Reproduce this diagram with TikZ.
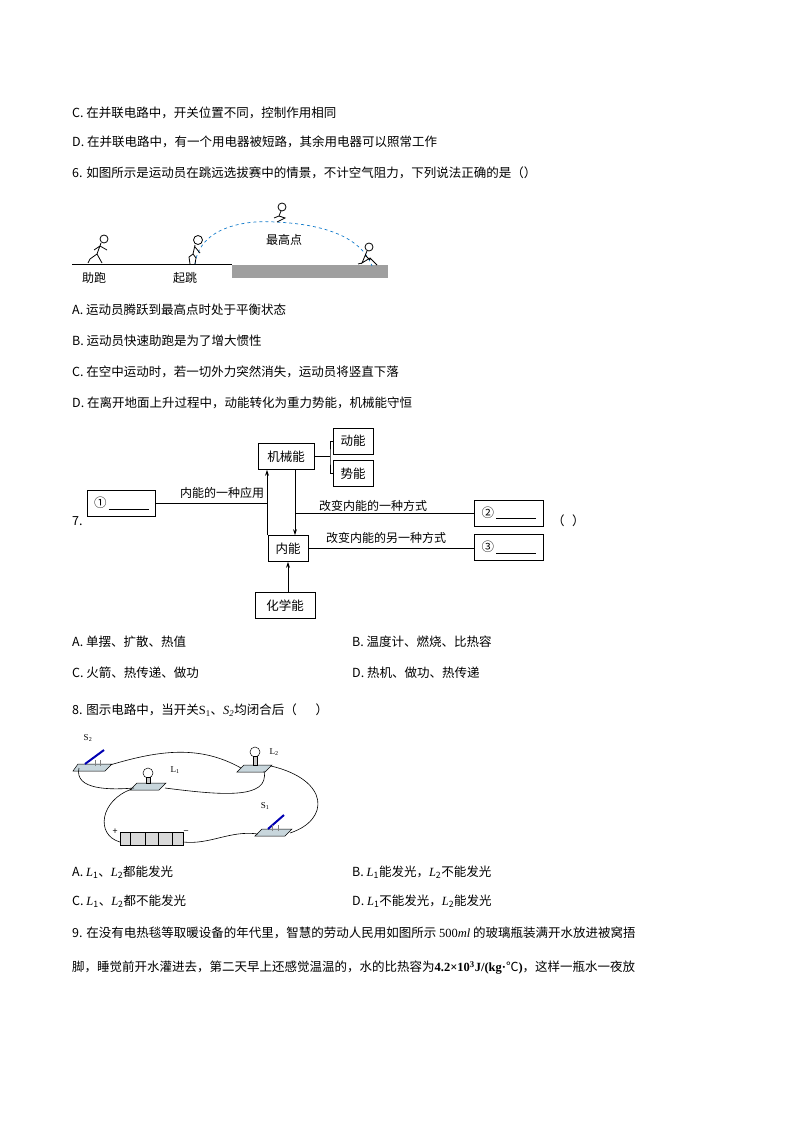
\documentclass[tikz,border=0pt]{standalone}
\usepackage{fontspec}
\setmainfont{Noto Sans CJK SC}
\newfontfamily\serifnum{Liberation Serif}
\usetikzlibrary{arrows.meta}
\begin{document}
\begin{tikzpicture}[x=1pt,y=-1pt,
  txt/.style={anchor=west,inner sep=0pt,font=\fontsize{12.5}{14}\selectfont},
  lab/.style={inner sep=0pt,font=\fontsize{12}{14}\selectfont},
  bx/.style={draw,thick,minimum height=26,inner sep=2pt,font=\fontsize{12.5}{14}\selectfont},
  ln/.style={thick},
  arr/.style={thick,-{Stealth[length=6pt,width=4pt]}},
  fig/.style={line width=0.8pt},
  base/.style={draw=black,fill=cyan!25!gray!40,line width=0.5pt},
  wire/.style={line width=0.6pt}]
\useasboundingbox (0,0) rectangle (794,1123);
% text lines
\node[txt] (t1) at (72,113) {C. 在并联电路中，开关位置不同，控制作用相同};
\node[txt] (t2) at (72,142) {D. 在并联电路中，有一个用电器被短路，其余用电器可以照常工作};
\node[txt] (t3) at (72,173) {6. 如图所示是运动员在跳远选拔赛中的情景，不计空气阻力，下列说法正确的是（）};
% jump diagram
\draw[line width=1pt] (72,264) -- (232,264);
\fill[gray!75] (232,265) rectangle (388,278);
\node[lab] (l1) at (94,278) {助跑};
\node[lab] (l2) at (185,278) {起跳};
\node[lab] (l3) at (284,240) {最高点};
\draw[cyan!60!blue,dashed,line width=0.7pt] (195,264) .. controls (200,225) and (250,220) .. (275,222) .. controls (320,224) and (360,235) .. (372,266);
% runner
\draw[fig] (104,239) circle (4);
\draw[fig] (101,243) -- (97,254) -- (102,263) (97,254) -- (90,259) -- (88,263) (100,246) -- (107,250) (100,246) -- (94,250);
% jumper at takeoff
\draw[fig] (198,240) circle (4.5);
\draw[fig] (195,245) -- (193,254) -- (189,257) -- (190,264) (193,254) -- (196,258) -- (195,264) (195,247) -- (200,253);
% peak
\draw[fig] (282,207) circle (4);
\draw[fig] (281,211) -- (279,216) -- (285,218) -- (277,222) (279,216) -- (274,218);
% landing
\draw[fig] (369,247) circle (4);
\draw[fig] (367,251) -- (362,263) -- (370,258) -- (377,265) (365,255) -- (370,260) (362,263) -- (358,264);
\node[txt] (a6) at (72,310) {A. 运动员腾跃到最高点时处于平衡状态};
\node[txt] (b6) at (72,341) {B. 运动员快速助跑是为了增大惯性};
\node[txt] (c6) at (72,372) {C. 在空中运动时，若一切外力突然消失，运动员将竖直下落};
\node[txt] (d6) at (72,403) {D. 在离开地面上升过程中，动能转化为重力势能，机械能守恒};
% energy diagram
\node[txt] (n7) at (72,521) {7.};
\node[bx,minimum width=56] (jx) at (286,456.5) {机械能};
\node[bx,minimum width=40] (dn) at (353,441) {动能};
\node[bx,minimum width=40] (sn) at (353,473.5) {势能};
\node[bx,minimum width=40] (nn) at (288,548.5) {内能};
\node[bx,minimum width=60] (hx) at (285,605.5) {化学能};
\node[bx,minimum width=68,anchor=west] (b1) at (87,503.5) {①\,\underline{\hspace{3.2em}}};
\node[bx,minimum width=69,anchor=west] (b2) at (474,513) {②\,\underline{\hspace{3.2em}}};
\node[bx,minimum width=69,anchor=west] (b3) at (474,547.5) {③\,\underline{\hspace{3.2em}}};
\node[txt] (pq) at (552,521) {（\hspace{0.6em}）};
\coordinate (tr) at (330,456.5);
\draw[ln] (jx.east) -- (tr);
\draw[ln] (dn.west) -| (tr) |- (sn.west);
\draw[arr] ([xshift=-21pt]nn.north) -- ([xshift=-19pt]jx.south);
\coordinate (up) at ([xshift=-21pt]nn.north |- b1.east);
\draw[ln] (b1.east) -- (up);
\draw[arr] ([xshift=9pt]jx.south) -- ([xshift=7pt]nn.north);
\coordinate (dw) at ([xshift=9pt]jx.south |- b2.west);
\draw[ln] (dw) -- (b2.west);
\draw[ln] (nn.east) -- (b3.west |- nn.east);
\draw[arr] (hx.north -| nn.south) -- (nn.south);
\node[lab] (e1) at (222,493) {内能的一种应用};
\node[lab] (e2) at (373,506) {改变内能的一种方式};
\node[lab] (e3) at (386,538) {改变内能的另一种方式};
\node[txt] (a7) at (72,642) {A. 单摆、扩散、热值};
\node[txt] (b7) at (352,642) {B. 温度计、燃烧、比热容};
\node[txt] (c7) at (72,673) {C. 火箭、热传递、做功};
\node[txt] (d7) at (352,673) {D. 热机、做功、热传递};
\node[txt] (q8) at (72,710) {8. 图示电路中，当开关{\serifnum S\textsubscript{1}}、{\serifnum\itshape S\textsubscript{2}}均闭合后（\hspace{1.5em}）};
% circuit
\draw[base] (78,764) -- (112,764) -- (105,771) -- (73,771) -- cycle;
\draw[base] (244,765) -- (272,765) -- (265,772) -- (237,772) -- cycle;
\draw[base] (137,783) -- (166,783) -- (159,790) -- (130,790) -- cycle;
\draw[base] (262,829) -- (292,829) -- (285,836) -- (255,836) -- cycle;
\draw[line width=2pt,blue!70!black] (85,764) -- (104,750);
\draw[line width=1pt,gray] (95,766) -- (95,760) (100,766) -- (100,760);
\draw[line width=2pt,blue!70!black] (268,829) -- (284,815);
\draw[line width=1pt,gray] (272,831) -- (272,825) (278,831) -- (278,825);
\draw[line width=0.5pt,fill=white] (255,752) circle (5);
\draw[line width=0.5pt,fill=gray!40] (253,756) rectangle (257,765);
\draw[line width=0.5pt,fill=white] (148,773) circle (5);
\draw[line width=0.5pt,fill=gray!40] (146,777) rectangle (150,783);
\draw[line width=0.5pt,fill=gray!30] (120,832) rectangle (183,845);
\draw[line width=0.5pt] (130,832) -- (130,845) (172,832) -- (172,845) (145,832) -- (145,845) (158,832) -- (158,845);
\node[lab,font=\fontsize{9}{10}\selectfont\serifnum] (s2) at (88,738) {S\textsubscript{2}};
\node[lab,font=\fontsize{9}{10}\selectfont\serifnum] (lb2) at (274,752) {L\textsubscript{2}};
\node[lab,font=\fontsize{9}{10}\selectfont\serifnum] (lb1) at (175,770) {L\textsubscript{1}};
\node[lab,font=\fontsize{9}{10}\selectfont\serifnum] (s1) at (265,806) {S\textsubscript{1}};
\node[lab,font=\fontsize{9}{10}\selectfont] (pl) at (115,832) {+};
\node[lab,font=\fontsize{9}{10}\selectfont] (mi) at (186,833) {−};
\draw[wire] (79,768) .. controls (74,790) and (110,790) .. (134,788);
\draw[wire] (110,765) .. controls (160,750) and (200,745) .. (241,768);
\draw[wire] (264,771) .. controls (270,800) and (220,795) .. (165,788);
\draw[wire] (271,766) .. controls (330,780) and (330,820) .. (290,833);
\draw[wire] (258,834) .. controls (230,830) and (210,845) .. (183,842);
\draw[wire] (120,842) .. controls (95,835) and (100,800) .. (132,789);
\node[txt] (a8) at (72,872) {A. {\serifnum\itshape L}\textsubscript{1}、{\serifnum\itshape L}\textsubscript{2}都能发光};
\node[txt] (b8) at (352,872) {B. {\serifnum\itshape L}\textsubscript{1}能发光，{\serifnum\itshape L}\textsubscript{2}不能发光};
\node[txt] (c8) at (72,901) {C. {\serifnum\itshape L}\textsubscript{1}、{\serifnum\itshape L}\textsubscript{2}都不能发光};
\node[txt] (d8) at (352,901) {D. {\serifnum\itshape L}\textsubscript{1}不能发光，{\serifnum\itshape L}\textsubscript{2}能发光};
\node[txt] (q9) at (72,933) {9. 在没有电热毯等取暖设备的年代里，智慧的劳动人民用如图所示 {\serifnum 500\itshape ml} 的玻璃瓶装满开水放进被窝捂};
\node[txt] (q9b) at (72,968) {脚，睡觉前开水灌进去，第二天早上还感觉温温的，水的比热容为{\serifnum\bfseries 4.2×10\textsuperscript{3}J/(kg·}℃{\serifnum\bfseries )}，这样一瓶水一夜放};
\end{tikzpicture}
\end{document}
